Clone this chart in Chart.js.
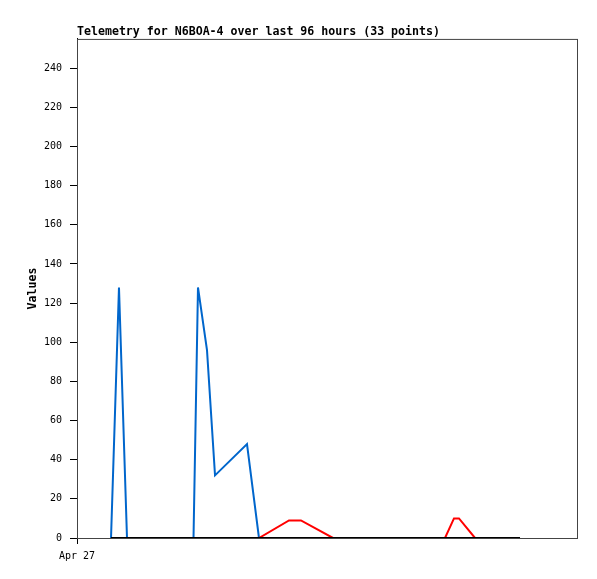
<!DOCTYPE html>
<html>
<head>
<meta charset="utf-8">
<script src="https://cdn.jsdelivr.net/npm/chart.js@4.4.1/dist/chart.umd.min.js"></script>
<style>
  html, body { margin: 0; padding: 0; background: #fff; }
  #wrap { width: 597px; height: 579px; }
</style>
</head>
<body>
<div id="wrap"><canvas id="c" width="597" height="579"></canvas></div>
<script>
// Hours since start of window (Apr 27)
const times      = [6.53, 8.06, 9.6, 22.37, 23.23, 24.96, 26.5, 32.64, 34.94, 40.7, 43.0, 49.15, 70.66, 72.38, 73.34, 76.42, 85.06];
const blueValues = [0, 128, 0, 0, 128, 96, 32, 48, 0, null, null, null, null, null, null, null, null];
const redValues  = [null, null, null, null, null, null, null, null, 0, 9, 9, 0, 0, 10, 10, 0, null];
const zeroValues = [0, 0, 0, 0, 0, 0, 0, 0, 0, 0, 0, 0, 0, 0, 0, 0, 0];
const xTickValues = [0];
const xTickLabels = ['Apr 27'];
const yTickValues = [0, 20, 40, 60, 80, 100, 120, 140, 160, 180, 200, 220, 240];

const toPts = vals => times.map((t, i) => ({ x: t, y: vals[i] }));

const MONO = "'DejaVu Sans Mono', 'Liberation Mono', monospace";

const framePlugin = {
  id: 'frame',
  afterDraw(chart) {
    const { ctx, chartArea: a } = chart;
    ctx.save();
    ctx.strokeStyle = '#444';
    ctx.lineWidth = 1;
    ctx.strokeRect(a.left + 0.5, a.top + 0.5, a.right - a.left, a.bottom - a.top);
    ctx.restore();
  }
};

new Chart(document.getElementById('c'), {
  type: 'line',
  data: {
    datasets: [
      { data: toPts(zeroValues), borderColor: '#000000', borderWidth: 2, pointRadius: 0, tension: 0 },
      { data: toPts(redValues),  borderColor: '#ff0000', borderWidth: 2, pointRadius: 0, tension: 0, spanGaps: false },
      { data: toPts(blueValues), borderColor: '#0066cc', borderWidth: 2, pointRadius: 0, tension: 0, spanGaps: false }
    ]
  },
  options: {
    responsive: false,
    animation: false,
    devicePixelRatio: 1,
    layout: { padding: { left: 0, right: 20, top: 0, bottom: 0 } },
    plugins: {
      legend: { display: false },
      tooltip: { enabled: false },
      title: {
        display: true,
        text: 'Telemetry for N6BOA-4 over last 96 hours (33 points)',
        align: 'start',
        fullSize: false,
        color: '#000',
        font: { family: MONO, size: 11.6, weight: 'bold', lineHeight: 1.2 },
        padding: { top: 25, bottom: 0 }
      }
    },
    scales: {
      x: {
        type: 'linear',
        min: 0,
        max: 96,
        afterBuildTicks: s => { s.ticks = xTickValues.map(v => ({ value: v })); },
        afterFit: s => { s.height = 41; },
        ticks: {
          autoSkip: false,
          maxRotation: 0,
          color: '#000',
          padding: 6,
          font: { family: MONO, size: 10 },
          callback: (v) => { const i = xTickValues.indexOf(v); return i >= 0 ? xTickLabels[i] : ''; }
        },
        grid: { drawOnChartArea: false, drawTicks: true, tickLength: 6, color: '#000' },
        border: { display: true, color: '#000', width: 1 }
      },
      y: {
        type: 'linear',
        min: 0,
        max: 255,
        afterBuildTicks: s => { s.ticks = yTickValues.map(v => ({ value: v })); },
        afterFit: s => { s.width = 77; },
        title: {
          display: true,
          text: 'Values',
          color: '#000',
          font: { family: MONO, size: 11.6, weight: 'bold', lineHeight: 1.2 },
          padding: { top: 26, bottom: 0 }
        },
        ticks: {
          color: '#000',
          padding: 8,
          font: { family: MONO, size: 10 }
        },
        grid: { drawOnChartArea: false, drawTicks: true, tickLength: 7, color: '#000' },
        border: { display: true, color: '#000', width: 1 }
      }
    }
  },
  plugins: [framePlugin]
});
</script>
</body>
</html>
